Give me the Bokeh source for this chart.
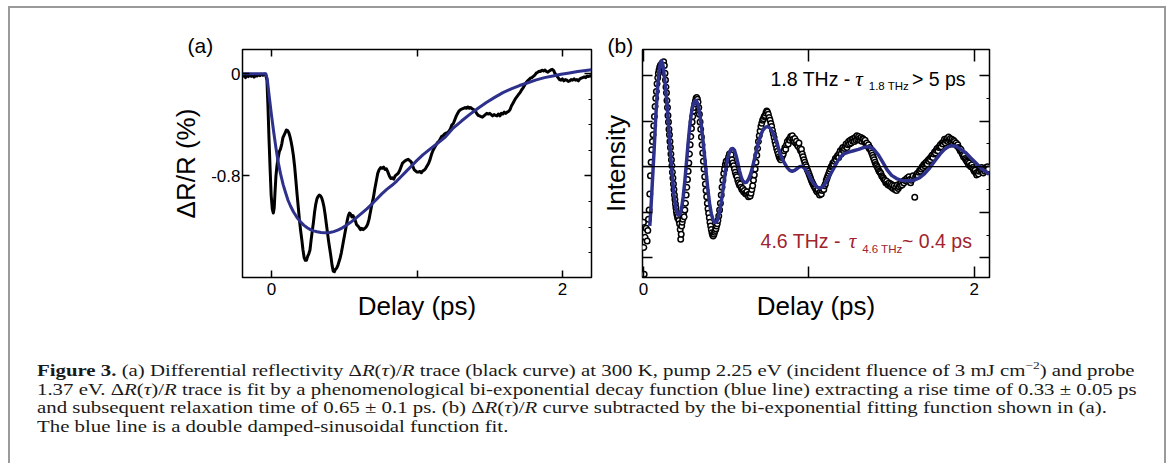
from bokeh.plotting import figure
from bokeh.models import (Range1d, LinearAxis, FixedTicker, CustomJSTickFormatter,
                          CustomLabelingPolicy, Span, Div, ColumnDataSource)
from bokeh.layouts import column, row
from bokeh.core.properties import value
from bokeh.embed import file_html
from bokeh.resources import INLINE

# ---------------- data ----------------
# Panel (a): measured dR/R trace (delay ps, %)
a_trace = [
    (-0.200,-0.025),(-0.190,-0.010),(-0.180,-0.030),(-0.170,-0.015),(-0.160,-0.022),(-0.150,-0.008),
    (-0.140,-0.020),(-0.130,-0.012),(-0.120,-0.026),(-0.110,-0.010),(-0.100,-0.018),(-0.090,-0.006),
    (-0.080,-0.015),(-0.070,-0.004),(-0.060,-0.012),(-0.050,-0.002),(-0.040,-0.010),
    (-0.032,-0.05),(-0.025,-0.25),(-0.018,-0.50),(-0.010,-0.75),(-0.003,-0.95),(0.005,-1.06),
    (0.012,-1.09),(0.018,-1.05),(0.024,-0.92),(0.030,-0.80),(0.037,-0.72),(0.045,-0.66),(0.053,-0.61),
    (0.061,-0.59),(0.070,-0.55),(0.078,-0.50),(0.086,-0.48),(0.094,-0.46),(0.102,-0.44),(0.110,-0.445),
    (0.118,-0.46),(0.126,-0.49),(0.134,-0.53),(0.142,-0.58),(0.150,-0.64),(0.158,-0.72),(0.166,-0.82),
    (0.175,-0.94),(0.184,-1.05),(0.192,-1.15),(0.200,-1.23),(0.208,-1.30),(0.216,-1.38),(0.224,-1.44),
    (0.232,-1.46),(0.240,-1.46),(0.248,-1.43),(0.256,-1.41),(0.264,-1.38),(0.272,-1.30),(0.280,-1.23),
    (0.288,-1.16),(0.296,-1.08),(0.304,-1.02),(0.312,-0.98),(0.320,-0.96),(0.328,-0.95),(0.336,-0.955),
    (0.344,-0.97),(0.352,-1.00),(0.360,-1.04),(0.368,-1.10),(0.376,-1.17),(0.384,-1.24),(0.392,-1.31),
    (0.400,-1.37),(0.408,-1.43),(0.416,-1.50),(0.424,-1.545),(0.432,-1.55),(0.440,-1.53),(0.448,-1.52),
    (0.456,-1.50),(0.464,-1.47),(0.472,-1.44),(0.480,-1.40),(0.488,-1.35),(0.496,-1.30),(0.504,-1.25),
    (0.512,-1.20),(0.520,-1.15),(0.528,-1.11),(0.536,-1.09),(0.544,-1.10),(0.552,-1.12),(0.560,-1.11),
    (0.568,-1.13),(0.576,-1.15),(0.584,-1.18),(0.592,-1.19),(0.600,-1.20),(0.610,-1.22),(0.620,-1.21),
    (0.630,-1.22),(0.640,-1.21),(0.650,-1.20),(0.660,-1.18),(0.670,-1.14),(0.680,-1.08),(0.690,-1.02),
    (0.700,-0.97),(0.710,-0.90),(0.720,-0.84),(0.730,-0.78),(0.740,-0.75),(0.750,-0.735),(0.760,-0.74),
    (0.770,-0.73),(0.780,-0.75),(0.790,-0.745),(0.800,-0.77),(0.810,-0.80),(0.820,-0.82),(0.830,-0.815),
    (0.840,-0.825),(0.850,-0.80),(0.860,-0.79),(0.870,-0.78),(0.880,-0.76),(0.890,-0.73),(0.900,-0.70),
    (0.910,-0.69),(0.920,-0.68),(0.930,-0.675),(0.940,-0.67),(0.950,-0.68),(0.960,-0.69),(0.970,-0.72),
    (0.980,-0.75),(0.990,-0.76),(1.000,-0.77),(1.010,-0.77),(1.020,-0.765),(1.030,-0.775),(1.040,-0.76),
    (1.050,-0.755),(1.060,-0.74),(1.070,-0.72),(1.080,-0.70),(1.090,-0.67),(1.100,-0.63),(1.110,-0.60),
    (1.120,-0.58),(1.130,-0.56),(1.140,-0.54),(1.150,-0.53),(1.160,-0.51),(1.170,-0.49),(1.180,-0.485),
    (1.190,-0.47),(1.200,-0.465),(1.210,-0.46),(1.220,-0.45),(1.230,-0.43),(1.240,-0.40),(1.250,-0.39),
    (1.260,-0.36),(1.270,-0.33),(1.280,-0.31),(1.290,-0.29),(1.300,-0.28),(1.310,-0.275),(1.320,-0.27),
    (1.330,-0.265),(1.340,-0.27),(1.350,-0.26),(1.360,-0.27),(1.370,-0.265),(1.380,-0.275),(1.390,-0.28),
    (1.400,-0.29),(1.410,-0.31),(1.420,-0.325),(1.430,-0.33),(1.440,-0.335),(1.450,-0.34),(1.460,-0.33),
    (1.470,-0.32),(1.480,-0.31),(1.490,-0.315),(1.500,-0.31),(1.510,-0.32),(1.520,-0.33),(1.530,-0.32),
    (1.540,-0.325),(1.550,-0.33),(1.560,-0.315),(1.570,-0.33),(1.580,-0.31),(1.590,-0.315),(1.600,-0.30),
    (1.610,-0.31),(1.620,-0.30),(1.630,-0.295),(1.640,-0.28),(1.650,-0.25),(1.660,-0.23),(1.670,-0.21),
    (1.680,-0.19),(1.690,-0.175),(1.700,-0.16),(1.710,-0.145),(1.720,-0.125),(1.730,-0.11),(1.740,-0.09),
    (1.750,-0.07),(1.760,-0.055),(1.770,-0.045),(1.780,-0.035),(1.790,-0.03),(1.800,-0.02),(1.810,-0.01),
    (1.820,0.005),(1.830,0.012),(1.840,0.02),(1.850,0.018),(1.860,0.028),(1.870,0.022),(1.880,0.03),
    (1.890,0.018),(1.900,0.012),(1.910,0.022),(1.920,0.03),(1.930,0.035),(1.940,0.025),(1.950,0.0),
    (1.960,-0.015),(1.970,-0.03),(1.980,-0.045),(1.990,-0.05),(2.000,-0.04),(2.010,-0.055),(2.020,-0.045),
    (2.030,-0.05),(2.040,-0.06),(2.050,-0.055),(2.060,-0.045),(2.070,-0.05),(2.080,-0.04),(2.090,-0.05),
    (2.100,-0.045),(2.110,-0.055),(2.120,-0.04),(2.130,-0.035),(2.140,-0.03),(2.150,-0.025),(2.160,-0.03),
    (2.170,-0.018),(2.180,-0.022),(2.190,-0.015),(2.200,-0.02),
]

# Panel (a): bi-exponential fit (blue)
a_fit = [
    (-0.200,0.0),(-0.100,0.0),(-0.040,0.0),(-0.030,-0.04),(-0.016,-0.18),(0.000,-0.33),(0.015,-0.46),
    (0.030,-0.58),(0.045,-0.69),(0.061,-0.78),(0.080,-0.87),(0.096,-0.93),(0.113,-0.99),(0.130,-1.035),
    (0.150,-1.08),(0.175,-1.125),(0.200,-1.16),(0.221,-1.185),(0.245,-1.205),(0.267,-1.22),(0.290,-1.23),
    (0.313,-1.237),(0.340,-1.243),(0.370,-1.245),(0.400,-1.243),(0.427,-1.236),(0.455,-1.224),
    (0.484,-1.208),(0.512,-1.188),(0.541,-1.165),(0.570,-1.14),(0.598,-1.113),(0.627,-1.085),
    (0.655,-1.058),(0.690,-1.02),(0.724,-0.98),(0.758,-0.94),(0.792,-0.905),(0.826,-0.875),(0.861,-0.84),
    (0.895,-0.80),(0.929,-0.76),(0.964,-0.72),(0.998,-0.68),(1.040,-0.635),(1.089,-0.59),(1.135,-0.55),
    (1.190,-0.50),(1.249,-0.425),(1.306,-0.37),(1.363,-0.318),(1.420,-0.27),(1.477,-0.225),(1.534,-0.185),
    (1.591,-0.148),(1.648,-0.118),(1.705,-0.092),(1.762,-0.07),(1.820,-0.048),(1.877,-0.03),(1.934,-0.018),
    (1.991,-0.004),(2.048,0.006),(2.105,0.017),(2.160,0.026),(2.200,0.032),
]

# Panel (b): residual oscillation (open circles)
b_dots = [
    (0.000,-1.22),(0.002,-1.77),(0.004,-2.36),(0.010,-1.55),(0.016,-1.35),(0.022,-1.63),(0.026,-1.40),
    (0.030,-1.15),(0.034,-0.95),(0.038,-0.60),(0.042,-0.20),(0.046,0.10),(0.050,0.37),(0.054,0.55),(0.058,0.70),
    (0.062,0.90),(0.066,1.10),(0.070,1.32),(0.074,1.50),(0.078,1.65),(0.082,1.82),(0.086,1.95),(0.090,2.05),
    (0.094,2.12),(0.098,2.18),(0.102,2.22),(0.106,2.20),(0.110,2.26),(0.114,2.28),(0.118,2.25),(0.122,2.30),(0.126,2.22),
    (0.130,2.05),(0.133,1.90),(0.136,1.75),(0.139,1.62),(0.142,1.45),(0.145,1.30),(0.148,1.12),(0.151,0.98),
    (0.154,0.82),(0.157,0.70),(0.160,0.55),(0.163,0.42),(0.166,0.28),(0.169,0.15),(0.172,0.02),(0.175,-0.12),
    (0.178,-0.25),(0.181,-0.38),(0.184,-0.50),(0.187,-0.62),(0.190,-0.72),(0.193,-0.82),(0.196,-0.90),(0.199,-0.98),
    (0.202,-1.05),(0.206,-1.12),(0.210,-1.08),(0.214,-1.18),(0.218,-1.25),(0.222,-1.38),(0.225,-1.59),(0.228,-1.48),
    (0.231,-1.30),(0.234,-1.22),(0.238,-1.15),(0.242,-1.05),(0.246,-1.10),(0.250,-0.95),
    (0.254,-0.80),(0.258,-0.62),(0.262,-0.45),(0.266,-0.28),(0.270,-0.10),(0.274,0.08),(0.278,0.28),(0.282,0.48),
    (0.286,0.66),(0.290,0.84),(0.294,0.98),(0.298,1.10),(0.302,1.22),(0.306,1.30),(0.310,1.38),(0.314,1.44),
    (0.318,1.50),(0.322,1.52),(0.326,1.48),(0.330,1.42),(0.334,1.30),(0.338,1.15),(0.342,0.98),(0.346,0.82),
    (0.350,0.65),(0.354,0.48),(0.358,0.30),(0.362,0.12),(0.366,-0.05),(0.370,-0.22),(0.374,-0.38),(0.378,-0.52),
    (0.382,-0.66),(0.386,-0.80),(0.390,-0.92),(0.394,-1.02),(0.398,-1.12),(0.402,-1.22),(0.406,-1.30),(0.410,-1.38),
    (0.414,-1.45),(0.418,-1.50),(0.422,-1.52),(0.426,-1.48),(0.430,-1.44),
    (0.434,-1.40),(0.438,-1.36),(0.442,-1.30),(0.446,-1.25),(0.450,-1.18),(0.455,-1.08),(0.460,-0.95),(0.465,-0.80),
    (0.470,-0.62),(0.475,-0.45),(0.480,-0.30),(0.485,-0.15),(0.490,-0.05),(0.495,0.05),(0.500,0.12),(0.505,0.05),
    (0.510,0.15),(0.515,0.22),(0.520,0.28),(0.525,0.20),(0.530,0.26),
    (0.535,0.15),(0.540,0.08),(0.545,0.02),(0.550,-0.05),(0.555,-0.12),(0.560,-0.18),(0.565,-0.22),(0.570,-0.30),
    (0.575,-0.35),(0.580,-0.40),(0.585,-0.38),(0.590,-0.45),(0.595,-0.50),(0.600,-0.48),(0.605,-0.55),(0.610,-0.52),
    (0.615,-0.58),(0.620,-0.60),(0.625,-0.55),(0.630,-0.62),(0.635,-0.66),(0.640,-0.60),(0.645,-0.64),(0.650,-0.58),
    (0.655,-0.50),(0.660,-0.42),(0.665,-0.30),
    (0.670,-0.18),(0.675,-0.05),(0.680,0.10),(0.685,0.25),(0.690,0.40),(0.695,0.55),(0.700,0.68),(0.705,0.78),
    (0.710,0.88),(0.715,0.95),(0.720,1.02),(0.725,1.05),(0.730,1.10),(0.735,1.12),(0.740,1.18),(0.745,1.22),
    (0.750,1.20),(0.755,1.15),(0.760,1.08),(0.765,1.02),(0.770,0.95),(0.775,0.88),(0.780,0.80),
    (0.785,0.72),(0.790,0.64),(0.795,0.55),(0.800,0.48),(0.805,0.40),(0.810,0.34),(0.815,0.28),(0.820,0.22),
    (0.825,0.18),(0.830,0.15),(0.835,0.20),(0.840,0.24),(0.845,0.28),(0.850,0.35),(0.855,0.42),(0.860,0.38),
    (0.865,0.48),(0.870,0.55),(0.875,0.50),(0.880,0.60),(0.885,0.58),(0.890,0.66),(0.895,0.62),(0.900,0.68),
    (0.905,0.60),(0.910,0.55),(0.915,0.62),(0.920,0.52),(0.925,0.56),(0.930,0.48),(0.935,0.45),(0.940,0.52),
    (0.945,0.40),(0.950,0.35),(0.955,0.38),(0.960,0.28),(0.965,0.22),(0.970,0.15),(0.975,0.10),(0.980,0.04),
    (0.985,0.00),(0.990,-0.06),
    (0.995,-0.10),(1.000,-0.15),(1.005,-0.20),(1.010,-0.25),(1.015,-0.30),(1.020,-0.34),(1.025,-0.38),(1.030,-0.42),
    (1.035,-0.45),(1.040,-0.48),(1.045,-0.52),(1.050,-0.55),(1.055,-0.50),(1.060,-0.58),(1.065,-0.62),(1.070,-0.55),
    (1.075,-0.60),(1.080,-0.52),(1.085,-0.48),(1.090,-0.50),(1.095,-0.42),(1.100,-0.38),(1.105,-0.30),(1.110,-0.25),
    (1.115,-0.20),(1.120,-0.15),
    (1.125,-0.10),(1.130,-0.05),(1.135,0.00),(1.140,0.02),(1.145,0.08),(1.150,0.05),(1.155,0.12),(1.160,0.18),
    (1.165,0.15),(1.170,0.22),(1.175,0.25),(1.180,0.20),(1.185,0.30),(1.190,0.35),(1.195,0.28),(1.200,0.38),
    (1.205,0.42),(1.210,0.35),(1.215,0.40),(1.220,0.45),(1.225,0.50),(1.230,0.42),(1.235,0.48),(1.240,0.55),
    (1.245,0.50),(1.250,0.58),(1.255,0.52),(1.260,0.60),(1.265,0.56),(1.270,0.62),(1.275,0.55),(1.280,0.64),
    (1.285,0.58),(1.290,0.68),(1.295,0.60),(1.300,0.66),(1.305,0.62),(1.310,0.58),(1.315,0.64),(1.320,0.56),
    (1.325,0.62),(1.330,0.60),(1.335,0.55),(1.340,0.58),(1.345,0.50),(1.350,0.52),(1.355,0.45),(1.360,0.48),
    (1.365,0.40),(1.370,0.42),(1.375,0.35),(1.380,0.30),(1.385,0.25),(1.390,0.20),(1.395,0.15),(1.400,0.10),
    (1.405,0.05),(1.410,0.02),(1.415,-0.02),(1.420,-0.06),(1.425,-0.10),(1.430,-0.12),(1.435,-0.15),(1.440,-0.20),
    (1.445,-0.22),(1.450,-0.25),(1.455,-0.28),(1.460,-0.30),(1.465,-0.35),(1.470,-0.32),(1.475,-0.38),(1.480,-0.40),
    (1.485,-0.36),(1.490,-0.42),(1.495,-0.38),(1.500,-0.45),(1.505,-0.40),(1.510,-0.48),(1.515,-0.42),(1.520,-0.50),
    (1.525,-0.45),(1.530,-0.52),(1.535,-0.40),(1.540,-0.48),(1.545,-0.44),(1.550,-0.38),(1.555,-0.42),(1.560,-0.35),
    (1.565,-0.40),(1.570,-0.32),(1.575,-0.36),(1.580,-0.30),(1.585,-0.28),(1.590,-0.32),(1.595,-0.25),(1.600,-0.30),
    (1.605,-0.22),(1.610,-0.28),(1.615,-0.35),(1.620,-0.30),(1.625,-0.25),(1.630,-0.20),(1.640,-0.67),(1.645,-0.22),
    (1.650,-0.18),(1.655,-0.15),(1.660,-0.20),
    (1.665,-0.12),(1.670,-0.08),(1.675,-0.10),(1.680,-0.05),(1.685,0.00),(1.690,-0.02),(1.695,0.05),(1.700,0.02),
    (1.705,0.08),(1.710,0.10),(1.715,0.06),(1.720,0.14),(1.725,0.12),(1.730,0.18),(1.735,0.15),(1.740,0.22),
    (1.745,0.25),(1.750,0.20),(1.755,0.28),(1.760,0.32),(1.765,0.30),(1.770,0.36),(1.775,0.40),(1.780,0.35),
    (1.785,0.42),(1.790,0.45),(1.795,0.48),(1.800,0.44),(1.805,0.52),(1.810,0.50),(1.815,0.55),(1.820,0.60),
    (1.825,0.52),(1.830,0.58),(1.835,0.62),(1.840,0.55),(1.845,0.65),(1.850,0.58),(1.855,0.62),(1.860,0.55),
    (1.865,0.60),(1.870,0.52),(1.875,0.58),(1.880,0.55),(1.885,0.50),(1.890,0.52),(1.895,0.46),(1.900,0.48),
    (1.905,0.42),(1.910,0.40),(1.915,0.35),(1.920,0.38),(1.925,0.30),(1.930,0.26),(1.935,0.22),(1.940,0.25),
    (1.945,0.18),(1.950,0.15),(1.955,0.12),(1.960,0.10),(1.965,0.05),(1.970,0.08),(1.975,0.02),(1.980,0.00),
    (1.985,0.04),(1.990,-0.02),(1.995,-0.06),(2.000,-0.10),(2.005,-0.08),(2.010,-0.14),(2.015,-0.18),(2.020,-0.12),
    (2.025,-0.16),(2.030,-0.10),(2.035,-0.04),(2.040,-0.08),(2.045,-0.02),(2.050,-0.10),(2.055,-0.14),(2.060,-0.06),
    (2.065,-0.10),(2.070,-0.02),(2.075,-0.08),(2.080,0.00),(2.085,-0.05),
]

# Panel (b): double damped-sinusoidal fit (blue)
b_fit = [
    (0.038,-1.30),(0.046,-0.85),(0.053,-0.38),(0.064,0.35),(0.074,1.08),(0.084,1.68),(0.094,2.11),(0.102,2.28),
    (0.110,2.32),(0.118,2.22),(0.126,1.98),(0.134,1.72),(0.145,1.25),(0.155,0.72),(0.165,0.22),(0.175,-0.24),
    (0.185,-0.62),(0.195,-0.89),(0.205,-1.03),(0.213,-1.07),(0.222,-1.03),(0.230,-0.92),(0.240,-0.66),
    (0.250,-0.32),(0.260,0.10),(0.270,0.52),(0.280,0.90),(0.290,1.18),(0.300,1.36),(0.310,1.44),(0.320,1.45),
    (0.330,1.36),(0.340,1.16),(0.350,0.90),(0.360,0.56),(0.370,0.20),(0.380,-0.17),(0.390,-0.53),(0.400,-0.82),
    (0.410,-1.03),(0.420,-1.16),(0.430,-1.22),(0.440,-1.22),(0.450,-1.14),(0.460,-0.99),(0.470,-0.78),
    (0.480,-0.52),(0.490,-0.25),(0.500,0.00),(0.510,0.19),(0.520,0.32),(0.530,0.39),(0.540,0.40),(0.550,0.36),
    (0.560,0.24),(0.570,0.09),(0.580,-0.08),(0.590,-0.22),(0.600,-0.31),(0.612,-0.35),(0.624,-0.34),
    (0.636,-0.27),(0.648,-0.16),(0.660,0.00),(0.672,0.18),(0.684,0.37),(0.696,0.55),(0.708,0.68),(0.720,0.79),
    (0.735,0.86),(0.750,0.88),(0.765,0.85),(0.780,0.76),(0.795,0.63),(0.810,0.47),(0.829,0.26),(0.849,0.10),
    (0.869,-0.02),(0.884,-0.08),(0.899,-0.10),(0.914,-0.08),(0.929,-0.04),(0.944,0.00),(0.959,0.01),
    (0.975,-0.04),(0.990,-0.12),(1.010,-0.25),(1.030,-0.37),(1.050,-0.45),(1.065,-0.47),(1.080,-0.45),
    (1.095,-0.39),(1.110,-0.30),(1.130,-0.17),(1.150,-0.04),(1.170,0.10),(1.190,0.21),(1.211,0.28),
    (1.240,0.32),(1.270,0.35),(1.300,0.38),(1.330,0.42),(1.362,0.44),(1.390,0.39),(1.420,0.26),(1.450,0.08),
    (1.473,-0.07),(1.500,-0.19),(1.530,-0.26),(1.560,-0.30),(1.590,-0.31),(1.613,-0.31),(1.640,-0.29),
    (1.670,-0.24),(1.700,-0.15),(1.730,-0.03),(1.760,0.12),(1.794,0.28),(1.820,0.38),(1.845,0.44),
    (1.865,0.46),(1.890,0.45),(1.920,0.38),(1.950,0.30),(1.976,0.20),(2.010,0.08),(2.040,-0.03),
    (2.070,-0.11),(2.090,-0.17),
]

# axis ticks / labels
a_xticks = [0, 2]
a_xminor = [1]
a_yticks = [0, -0.8]
a_yminor = [-1.4, -1.2, -1.0, -0.6, -0.4, -0.2]
b_xticks = [0, 2]
b_xminor = [1]
b_yticks = [-2, -1, 0, 1, 2]
b_yminor = [-1.5, -0.5, 0.5, 1.5]
x_title = "Delay (ps)"
a_ytitle = "ΔR/R (%)"
b_ytitle = "Intensity"
a_tag = "(a)"
b_tag = "(b)"

# ---------------- styling ----------------
SANS = "Liberation Sans"
BLUE = "#2d318c"
RED = "#a0232d"

def hide_labels():
    return CustomLabelingPolicy(code="for (const i of Array.from(indices)) indices.unset(i)")

def style_common(p):
    p.xgrid.visible = False
    p.ygrid.visible = False
    p.outline_line_color = "black"
    p.outline_line_width = 1.5
    p.background_fill_color = "white"
    p.border_fill_color = "white"

def style_axis(ax, tick_in, minor_in=0, labels=True):
    ax.axis_line_color = None
    ax.major_tick_in = tick_in
    ax.major_tick_out = 0
    ax.minor_tick_in = minor_in
    ax.minor_tick_out = 0
    ax.major_tick_line_width = 1.5
    ax.minor_tick_line_width = 1.5 if minor_in > 5 else 1.2
    ax.major_label_text_font = SANS
    ax.major_label_text_color = "black"
    if labels:
        ax.major_label_text_font_size = "17px"
    else:
        ax.major_label_text_font_size = "1px"
        ax.major_label_standoff = 0
        ax.major_label_policy = hide_labels()
    ax.axis_label_text_font = SANS
    ax.axis_label_text_font_size = "26px"
    ax.axis_label_text_font_style = "normal"
    ax.axis_label_text_color = "black"

def style_tag(p, offset):
    p.title.align = "left"
    p.title.offset = offset
    p.title.text_font = SANS
    p.title.text_font_size = "21px"
    p.title.text_font_style = "normal"
    p.title.text_color = "black"
    p.title.vertical_align = "bottom"
    p.title.standoff = -22

# ---------------- panel (a) ----------------
pa = figure(width=586, height=327, x_range=Range1d(-0.2, 2.2), y_range=Range1d(-1.595, 0.19),
            output_backend="svg", toolbar_location=None, title=a_tag)
pa.min_border_left = 232
pa.min_border_right = 4
pa.min_border_top = 41
pa.min_border_bottom = 58
style_common(pa)
style_tag(pa, -55)

ax = pa.xaxis[0]
ax.ticker = FixedTicker(ticks=a_xticks, minor_ticks=a_xminor)
style_axis(ax, 7, minor_in=7)
ax.major_label_standoff = 5
ax.axis_label = x_title
ax.axis_label_standoff = -7

ay = pa.yaxis[0]
ay.ticker = FixedTicker(ticks=a_yticks)
ay.formatter = CustomJSTickFormatter(code="return tick == 0 ? '0' : tick.toFixed(1);")
style_axis(ay, 7)
ay.major_label_standoff = 2
ay.axis_label = a_ytitle
ay.axis_label_standoff = 7

top_a = LinearAxis(ticker=FixedTicker(ticks=a_xticks, minor_ticks=a_xminor))
style_axis(top_a, 7, minor_in=7, labels=False)
pa.add_layout(top_a, "above")
right_a = LinearAxis(ticker=FixedTicker(ticks=a_yticks, minor_ticks=a_yminor))
style_axis(right_a, 7, minor_in=3, labels=False)
pa.add_layout(right_a, "right")

src_at = ColumnDataSource(dict(t=[p[0] for p in a_trace], v=[p[1] for p in a_trace]))
src_af = ColumnDataSource(dict(t=[p[0] for p in a_fit], v=[p[1] for p in a_fit]))
pa.line("t", "v", source=src_at, line_color="black", line_width=3, line_join="round")
pa.line("t", "v", source=src_af, line_color=BLUE, line_width=3, line_join="round")

# ---------------- panel (b) ----------------
pb = figure(width=568, height=327, x_range=Range1d(-0.006, 2.092), y_range=Range1d(-2.43, 2.57),
            output_backend="svg", toolbar_location=None, title=b_tag)
pb.min_border_left = 46
pb.min_border_right = 175
pb.min_border_top = 41
pb.min_border_bottom = 58
style_common(pb)
style_tag(pb, -35)

bx = pb.xaxis[0]
bx.ticker = FixedTicker(ticks=b_xticks, minor_ticks=b_xminor)
style_axis(bx, 11, minor_in=11)
bx.major_label_standoff = 5
bx.axis_label = x_title
bx.axis_label_standoff = -7

by = pb.yaxis[0]
by.ticker = FixedTicker(ticks=b_yticks)
style_axis(by, 10, labels=False)
by.axis_label = b_ytitle
by.axis_label_standoff = 7

top_b = LinearAxis(ticker=FixedTicker(ticks=b_xticks, minor_ticks=b_xminor))
style_axis(top_b, 12, minor_in=12, labels=False)
pb.add_layout(top_b, "above")
right_b = LinearAxis(ticker=FixedTicker(ticks=b_yticks, minor_ticks=b_yminor))
style_axis(right_b, 10, minor_in=3, labels=False)
pb.add_layout(right_b, "right")

pb.add_layout(Span(location=0, dimension="width", line_color="black", line_width=1.2))

src_bd = ColumnDataSource(dict(t=[p[0] for p in b_dots], u=[p[1] for p in b_dots]))
src_bf = ColumnDataSource(dict(t=[p[0] for p in b_fit], u=[p[1] for p in b_fit]))
pb.scatter("t", "u", source=src_bd, marker="circle", size=5.5, line_color="black",
           line_width=1.5, fill_color="white")
pb.line("t", "u", source=src_bf, line_color=BLUE, line_width=3.5, line_join="round")

# annotation pieces (main text, italic tau, subscript, tail)
ann = ColumnDataSource(dict(
    x=[0.768, 1.623, 0.708, 1.563],
    y=[1.918, 1.918, -1.635, -1.635],
    text=["1.8 THz -", "> 5 ps", "4.6 THz -", "~ 0.4 ps"],
    color=["black", "black", RED, RED],
))
pb.text("x", "y", text="text", source=ann, text_color="color", text_font=value(SANS),
        text_font_size=value("19.5px"), text_baseline="alphabetic", text_align="left")
tau = ColumnDataSource(dict(x=[1.281, 1.241], y=[1.918, -1.635], text=["τ", "τ"], color=["black", RED]))
pb.text("x", "y", text="text", source=tau, text_color="color", text_font=value("Liberation Serif"),
        text_font_style="italic", text_font_size=value("21px"), text_baseline="alphabetic", text_align="left")
sub = ColumnDataSource(dict(x=[1.362, 1.322], y=[1.773, -1.815], text=["1.8 THz", "4.6 THz"], color=["black", RED]))
pb.text("x", "y", text="text", source=sub, text_color="color", text_font=value(SANS),
        text_font_size=value("11.5px"), text_baseline="alphabetic", text_align="left")

# ---------------- caption ----------------
SUP = "<span style='font-size:11px; line-height:0; position:relative; top:-0.6em;'>&minus;2</span>"
caption_html = (
    "<div style=\"width:1154px; height:128px; box-sizing:border-box; padding:27px 0 0 27px; overflow:hidden;\">"
    "<div style=\"font-family:'Liberation Serif',serif; font-size:17px; line-height:18.6px; "
    "white-space:nowrap; color:#1a1a1a; width:910px; transform:scaleX(1.225); transform-origin:0 0;\">"
    "<b>Figure 3.</b> (a) Differential reflectivity &Delta;<i>R</i>(<i>&tau;</i>)/<i>R</i> trace (black curve) "
    "at 300 K, pump 2.25 eV (incident fluence of 3 mJ cm" + SUP + ") and probe<br>"
    "1.37 eV. &Delta;<i>R</i>(<i>&tau;</i>)/<i>R</i> trace is fit by a phenomenological bi-exponential decay "
    "function (blue line) extracting a rise time of 0.33 &plusmn; 0.05 ps<br>"
    "and subsequent relaxation time of 0.65 &plusmn; 0.1 ps. (b) &Delta;<i>R</i>(<i>&tau;</i>)/<i>R</i> curve "
    "subtracted by the bi-exponential fitting function shown in (a).<br>"
    "The blue line is a double damped-sinusoidal function fit."
    "</div></div>"
)
cap = Div(text=caption_html, width=1154, height=128, margin=0)

layout = column(row(pa, pb), cap, margin=(6, 0, 0, 8),
                styles={"border": "2px solid #9a9a9a", "border-bottom": "none"})

open("out.html", "w").write(file_html(layout, INLINE))
